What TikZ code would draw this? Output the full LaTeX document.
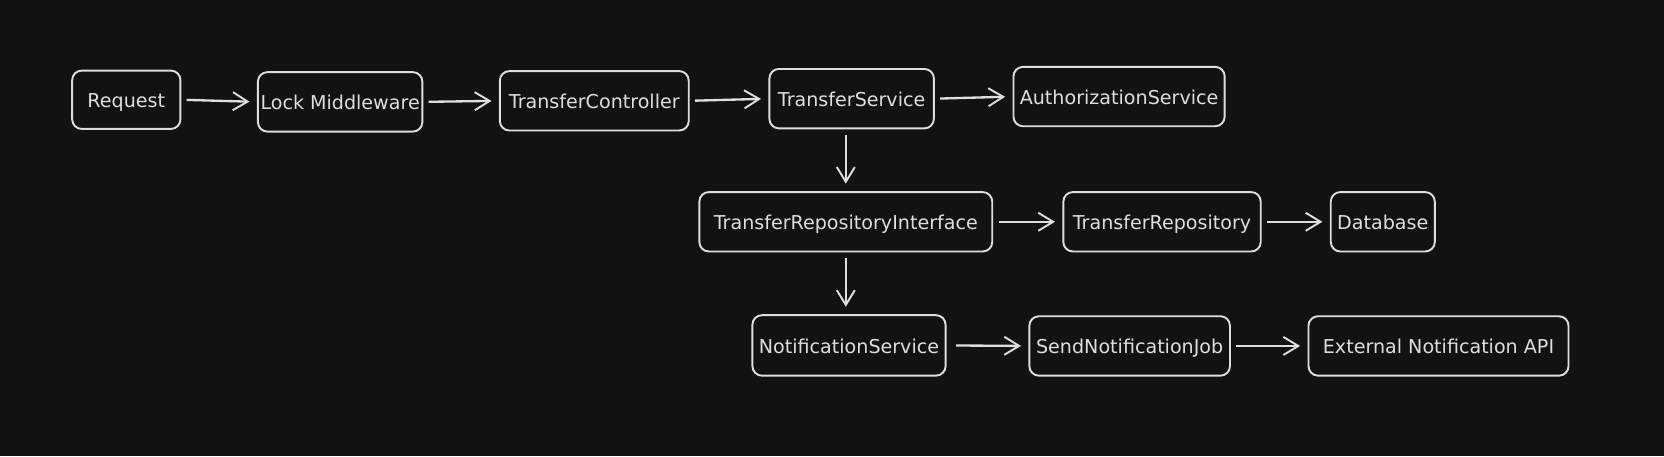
\documentclass[tikz,border=0pt]{standalone}
\usepackage{fontspec}
\setmainfont{DejaVu Sans}
\usetikzlibrary{arrows.meta}
\definecolor{bg}{HTML}{121212}
\definecolor{ink}{HTML}{DEDEDE}
\begin{document}
\begin{tikzpicture}[x=1pt,y=-1pt,
  box/.style={draw=ink,line width=1.8pt,rounded corners=9pt,text=ink,font=\fontsize{18}{22}\selectfont,inner sep=0pt,text height=16pt,text depth=1pt,anchor=center},
  conn/.style={draw=ink,line width=2.2pt,-{Straight Barb[length=14pt,width=17pt,line width=1.8pt]},shorten <=5pt,shorten >=7pt}]
\fill[bg] (0,0) rectangle (1568,429.7);
\useasboundingbox (0,0) rectangle (1568,429.7);
\node[box,minimum width=102pt,minimum height=55pt] (req) at (119,94) {Request};
\node[box,minimum width=155pt,minimum height=56pt] (lock) at (320.5,96) {Lock Middleware};
\node[box,minimum width=178pt,minimum height=56pt] (tc) at (560,95) {TransferController};
\node[box,minimum width=155pt,minimum height=56pt] (ts) at (802.5,93) {TransferService};
\node[box,minimum width=199pt,minimum height=56pt] (auth) at (1054.5,91) {AuthorizationService};
\node[box,minimum width=276pt,minimum height=56pt] (tri) at (797,209) {TransferRepositoryInterface};
\node[box,minimum width=186pt,minimum height=56pt] (tr) at (1095,209) {TransferRepository};
\node[box,minimum width=98pt,minimum height=56pt] (db) at (1303,209) {Database};
\node[box,minimum width=182pt,minimum height=57pt] (ns) at (800,325.5) {NotificationService};
\node[box,minimum width=189pt,minimum height=56pt] (snj) at (1064.5,326) {SendNotificationJob};
\node[box,minimum width=245pt,minimum height=56pt] (ext) at (1355.5,326) {External Notification API};
\draw[conn] (req.east) -- (lock.west);
\draw[conn] (lock.east) -- (tc.west);
\draw[conn] (tc.east) -- (ts.west);
\draw[conn] (ts.east) -- (auth.west);
\draw[conn] (ts.south -| tri.north) -- (tri.north);
\draw[conn] (tri.east) -- (tr.west);
\draw[conn] (tr.east) -- (db.west);
\draw[conn] (tri.south) -- (tri.south |- ns.north);
\draw[conn,shorten <=9pt] (ns.east) -- (snj.west);
\draw[conn] (snj.east) -- (ext.west);
\end{tikzpicture}
\end{document}
